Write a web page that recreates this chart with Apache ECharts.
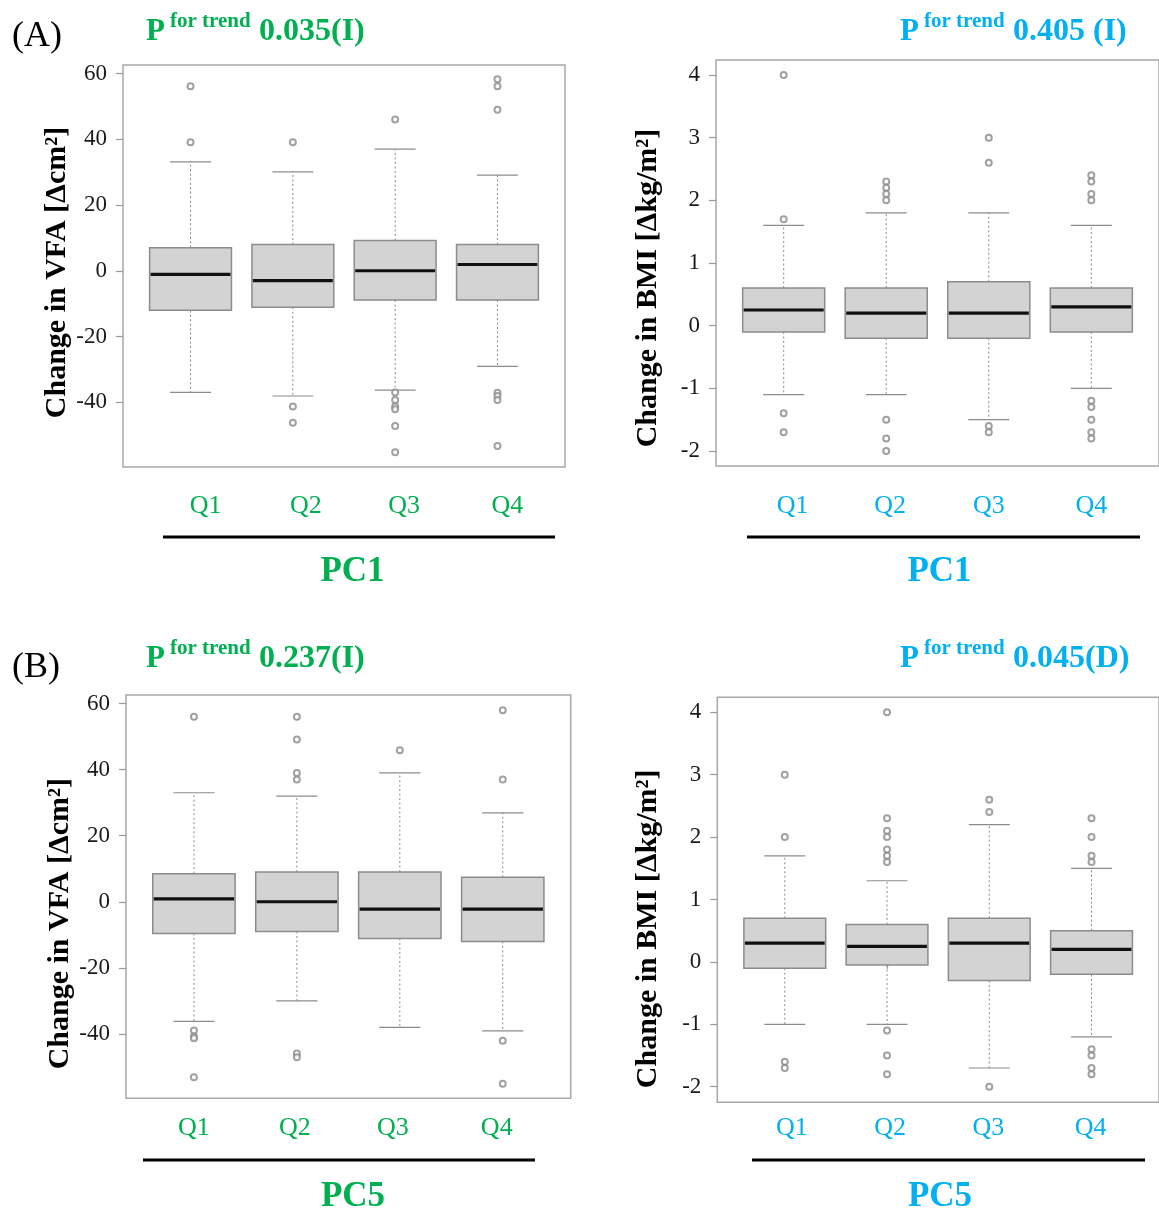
<!DOCTYPE html>
<html><head><meta charset="utf-8">
<script src="https://cdn.jsdelivr.net/npm/echarts@6/dist/echarts.min.js"></script>
<style>html,body{margin:0;padding:0;background:#fff}#c{width:1159px;height:1209px}</style>
</head><body><div id="c"></div>
<script>
// ---------- data ----------
const categories = ['Q1', 'Q2', 'Q3', 'Q4'];
const vfaTicks = [-40, -20, 0, 20, 40, 60];
const bmiTicks = [-2, -1, 0, 1, 2, 3, 4];

// five-number summaries per quartile: [lower whisker, Q1, median, Q3, upper whisker]
const vfaPC1Stats = [[-37.0, -12.0, -1.1, 7.0, 33.1], [-38.1, -11.1, -3.0, 8.0, 30.1], [-36.3, -8.9, 0.0, 9.2, 37.0], [-29.1, -8.9, 1.9, 8.0, 29.1]];
const vfaPC1Outliers = [[56.1, 39.1], [39.1, -41.3, -46.2], [46.0, -37.0, -39.3, -41.3, -42.1, -47.2, -55.2], [58.3, 56.1, 49.0, -37.1, -38.1, -39.3, -53.3]];

const bmiPC1Stats = [[-1.1, -0.1, 0.25, 0.6, 1.6], [-1.1, -0.2, 0.2, 0.6, 1.8], [-1.5, -0.2, 0.2, 0.7, 1.8], [-1.0, -0.1, 0.3, 0.6, 1.6]];
const bmiPC1Outliers = [[4.0, 1.7, -1.4, -1.7], [2.3, 2.2, 2.1, 2.0, -1.5, -1.8, -2.0], [3.0, 2.6, -1.6, -1.7], [2.4, 2.3, 2.1, 2.0, -1.2, -1.3, -1.5, -1.7, -1.8]];

const vfaPC5Stats = [[-36.2, -9.6, 0.9, 8.5, 33.0], [-30.0, -9.0, 0.0, 9.0, 32.0], [-38.0, -11.1, -2.2, 9.0, 39.0], [-39.1, -12.0, -2.2, 7.4, 26.9]];
const vfaPC5Outliers = [[56.0, -39.0, -40.8, -41.3, -53.1], [56.0, 49.1, 39.0, 37.0, -45.9, -47.1], [45.9], [58.0, 37.0, -42.1, -55.1]];

const bmiPC5Stats = [[-1.0, -0.1, 0.3, 0.7, 1.7], [-1.0, -0.05, 0.25, 0.6, 1.3], [-1.7, -0.3, 0.3, 0.7, 2.2], [-1.2, -0.2, 0.2, 0.5, 1.5]];
const bmiPC5Outliers = [[3.0, 2.0, -1.6, -1.7], [4.0, 2.3, 2.1, 2.0, 1.8, 1.7, 1.6, -1.1, -1.5, -1.8], [2.6, 2.4, -2.0], [2.3, 2.0, 1.7, 1.6, -1.4, -1.5, -1.7, -1.8]];

const pTrendLabels = ['0.035(I)', '0.405 (I)', '0.237(I)', '0.045(D)'];
const pcLabels = ['PC1', 'PC1', 'PC5', 'PC5'];
const yTitles = ['Change in VFA [\u0394cm\u00B2]', 'Change in BMI [\u0394kg/m\u00B2]', 'Change in VFA [\u0394cm\u00B2]', 'Change in BMI [\u0394kg/m\u00B2]'];

// ---------- style / layout ----------
const GREEN = '#00B050', BLUE = '#00B0F0';
const FONT = 'Liberation Serif';
const panels = [
  {grid: {left: 123, top: 65, width: 442, height: 402}, y: [-59.7, 62.6], ticks: vfaTicks, stats: vfaPC1Stats, out: vfaPC1Outliers, color: GREEN, nameGap: 50, namePad: 13, lm: 26, shifts: [15, 13, 9, 10]},
  {grid: {left: 716, top: 60, width: 445.5, height: 406}, y: [-2.24, 4.24], ticks: bmiTicks, stats: bmiPC1Stats, out: bmiPC1Outliers, color: BLUE, nameGap: 53, namePad: 50, lm: 27, shifts: [9, 4, 0, 0]},
  {grid: {left: 126, top: 695, width: 444.7, height: 403.3}, y: [-59.5, 62.6], ticks: vfaTicks, stats: vfaPC5Stats, out: vfaPC5Outliers, color: GREEN, nameGap: 51, namePad: 54, lm: 17, shifts: [0, -2, -7, -6]},
  {grid: {left: 717.3, top: 697.3, width: 445, height: 405}, y: [-2.25, 4.24], ticks: bmiTicks, stats: bmiPC5Stats, out: bmiPC5Outliers, color: BLUE, nameGap: 54, namePad: 58, lm: 13, shifts: [7, 3, -1, -1]}
];

function renderBox(params, api) {
  const x = api.value(0);
  const lo = api.coord([x, api.value(1)]);
  const q1 = api.coord([x, api.value(2)]);
  const md = api.coord([x, api.value(3)]);
  const q3 = api.coord([x, api.value(4)]);
  const hi = api.coord([x, api.value(5)]);
  const half = api.size([0.4, 0])[0];
  const cap = half / 2;
  const cx = md[0];
  const grey = '#8c8c8c';
  return {
    type: 'group',
    children: [
      {type: 'line', shape: {x1: cx, y1: q3[1], x2: cx, y2: hi[1]}, style: {stroke: grey, lineWidth: 1, lineDash: [2, 2.5]}},
      {type: 'line', shape: {x1: cx, y1: q1[1], x2: cx, y2: lo[1]}, style: {stroke: grey, lineWidth: 1, lineDash: [2, 2.5]}},
      {type: 'line', shape: {x1: cx - cap, y1: hi[1], x2: cx + cap, y2: hi[1]}, style: {stroke: grey, lineWidth: 1.2}},
      {type: 'line', shape: {x1: cx - cap, y1: lo[1], x2: cx + cap, y2: lo[1]}, style: {stroke: grey, lineWidth: 1.2}},
      {type: 'rect', shape: {x: cx - half, y: q3[1], width: 2 * half, height: q1[1] - q3[1]}, style: {fill: '#d3d3d3', stroke: grey, lineWidth: 1.5}},
      {type: 'line', shape: {x1: cx - half + 1, y1: md[1], x2: cx + half - 1, y2: md[1]}, style: {stroke: '#111', lineWidth: 3.2}}
    ]
  };
}

const grids = [], xAxes = [], yAxes = [], series = [];
panels.forEach((p, i) => {
  grids.push(Object.assign({show: true, borderColor: '#a8a8a8', borderWidth: 1.5, backgroundColor: 'transparent'}, p.grid));
  const rich = {};
  p.shifts.forEach((s, k) => {
    rich['q' + k] = {color: p.color, fontSize: 26, fontFamily: FONT,
      padding: s >= 0 ? [0, 0, 0, 2 * s] : [0, -2 * s, 0, 0]};
  });
  xAxes.push({
    type: 'value', gridIndex: i, min: 0.34, max: 4.66,
    axisLine: {show: false}, splitLine: {show: false},
    axisTick: {show: true, customValues: [1, 2, 3, 4], length: 7, lineStyle: {color: '#999', width: 1.2}},
    axisLabel: {
      show: true, customValues: [1, 2, 3, 4],
      formatter: v => { const k = Math.round(v) - 1; return '{q' + k + '|' + categories[k] + '}'; },
      rich: rich, color: p.color, fontSize: 26, fontFamily: FONT, margin: p.lm
    }
  });
  yAxes.push({
    type: 'value', gridIndex: i, min: p.y[0], max: p.y[1],
    axisLine: {show: false}, splitLine: {show: false},
    axisTick: {show: true, customValues: p.ticks, length: 7, lineStyle: {color: '#999', width: 1.2}},
    axisLabel: {show: true, customValues: p.ticks, color: '#1a1a1a', fontSize: 23, fontFamily: FONT, margin: 16},
    name: yTitles[i], nameLocation: 'middle', nameRotate: 90, nameGap: p.nameGap,
    nameTextStyle: {fontSize: 30, fontWeight: 'bold', fontFamily: FONT, color: '#000', padding: [0, p.namePad, 0, 0]}
  });
  series.push({
    type: 'custom', xAxisIndex: i, yAxisIndex: i, renderItem: renderBox, silent: true,
    encode: {x: 0, y: [1, 2, 3, 4, 5]},
    data: p.stats.map((s, k) => [k + 1].concat(s)), z: 2
  });
  const outData = [];
  p.out.forEach((vals, k) => vals.forEach(v => outData.push([k + 1, v])));
  series.push({
    type: 'scatter', xAxisIndex: i, yAxisIndex: i, silent: true, z: 3,
    symbol: 'emptyCircle', symbolSize: 6,
    itemStyle: {color: '#8a8a8a', borderWidth: 1.1},
    data: outData
  });
});

function txt(x, y, text, size, color, weight, align) {
  return {type: 'text', x: x, y: y, silent: true, style: {text: text, fontSize: size, fontFamily: FONT, fill: color, fontWeight: weight || 'normal', align: align || 'left', verticalAlign: 'middle'}};
}
function hline(x1, x2, y) {
  return {type: 'line', silent: true, shape: {x1: x1, y1: y, x2: x2, y2: y}, style: {stroke: '#000', lineWidth: 3}};
}
const pPos = [{x: 146, y: 32}, {x: 900, y: 32}, {x: 146, y: 659}, {x: 900, y: 659}];
const linePos = [{x1: 163, x2: 555, y: 537, cx: 352.5, ty: 572}, {x1: 747, x2: 1140, y: 537, cx: 939.5, ty: 572}, {x1: 143, x2: 535, y: 1160, cx: 353, ty: 1197}, {x1: 752, x2: 1145, y: 1160, cx: 940, ty: 1197}];
const graphics = [txt(12, 37, '(A)', 36, '#000'), txt(12, 668, '(B)', 36, '#000')];
panels.forEach((p, i) => {
  const pp = pPos[i];
  graphics.push(txt(pp.x, pp.y, 'P', 31, p.color, 'bold'));
  graphics.push(txt(pp.x + 24, pp.y - 10, 'for trend', 21, p.color, 'bold'));
  graphics.push(txt(pp.x + 113, pp.y, pTrendLabels[i], 32, p.color, 'bold'));
  const lp = linePos[i];
  graphics.push(hline(lp.x1, lp.x2, lp.y));
  graphics.push(txt(lp.cx, lp.ty, pcLabels[i], 35, p.color, 'bold', 'center'));
});

const chart = echarts.init(document.getElementById('c'), null, {renderer: 'canvas'});
chart.setOption({
  animation: false,
  backgroundColor: '#fff',
  grid: grids, xAxis: xAxes, yAxis: yAxes, series: series,
  graphic: graphics
});
</script></body></html>
